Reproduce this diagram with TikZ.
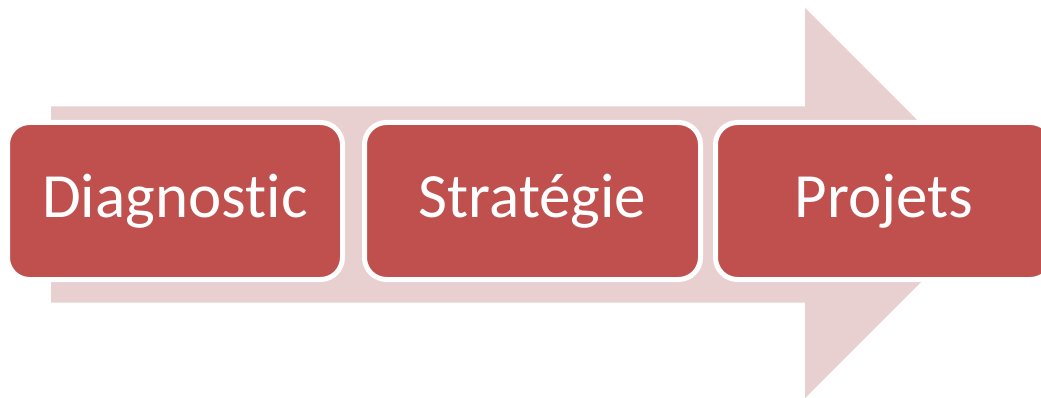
\documentclass[tikz,border=0pt]{standalone}
\usepackage{fontspec}
\setmainfont{Carlito}[Ligatures={NoCommon}]
\definecolor{boxred}{RGB}{192,80,77}
\definecolor{arrowpink}{RGB}{232,208,208}
\begin{document}
\begin{tikzpicture}[x=1pt,y=-1pt,
  stage/.style={rectangle, rounded corners=22pt, draw=white, line width=5pt,
    fill=boxred, text=white, inner sep=0pt,
    minimum height=157pt, text height=46pt, text depth=12pt,
    font=\fontsize{63}{75}\selectfont}]
\useasboundingbox (0,0) rectangle (1041,398);
\fill[arrowpink] (51,106.5) -- (805,106.5) -- (805,8) -- (1000,203) -- (805,398) -- (805,302.5) -- (51,302.5) -- cycle;
\node[stage, minimum width=335pt] (d) at (175,201) {Diagnostic};
\node[stage, minimum width=336pt] (s) at (532.5,201) {Stratégie};
\node[stage, minimum width=337pt] (p) at (884,201) {Projets};
\end{tikzpicture}
\end{document}
